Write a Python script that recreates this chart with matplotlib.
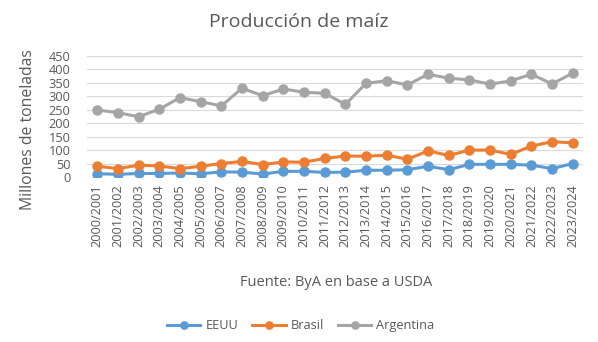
import matplotlib
matplotlib.use('Agg')
import matplotlib.pyplot as plt

plt.rcParams['font.family'] = ['Open Sans', 'DejaVu Sans']

campanas = ['2000/2001', '2001/2002', '2002/2003', '2003/2004', '2004/2005', '2005/2006',
            '2006/2007', '2007/2008', '2008/2009', '2009/2010', '2010/2011', '2011/2012',
            '2012/2013', '2013/2014', '2014/2015', '2015/2016', '2016/2017', '2017/2018',
            '2018/2019', '2019/2020', '2020/2021', '2021/2022', '2022/2023', '2023/2024']
eeuu = [12, 10, 13, 13, 15, 12, 19, 18, 11, 21, 21, 17,
        18, 25, 25, 27, 40, 27, 47, 47, 47, 44, 31, 50]
brasil = [40, 31, 44, 41, 31, 40, 50, 58, 46, 56, 55, 69,
          78, 77, 81, 66, 97, 80, 100, 100, 84, 115, 131, 127]
argentina = [249, 239, 224, 252, 295, 280, 264, 330, 302, 327, 315, 311,
             270, 348, 358, 342, 382, 367, 361, 345, 357, 382, 346, 386]

gris = '#595959'
fig = plt.figure(figsize=(5.98, 3.42), dpi=100)
ax = fig.add_axes([0.1455, 0.4825, 0.8295, 0.354])

x = range(len(campanas))
ax.plot(x, eeuu, color='#5B9BD5', lw=2.2, marker='o', ms=6.5, label='EEUU')
ax.plot(x, brasil, color='#ED7D31', lw=2.2, marker='o', ms=6.5, label='Brasil')
ax.plot(x, argentina, color='#A5A5A5', lw=2.2, marker='o', ms=6.5, label='Argentina')

ax.set_xlim(-0.5, len(campanas) - 0.5)
ax.set_ylim(0, 450)
ax.set_yticks(range(0, 451, 50))
ax.set_xticks(list(x))
ax.set_xticklabels(campanas, rotation=90)
ax.tick_params(axis='both', length=0, colors=gris, labelsize=9.2)
ax.tick_params(axis='x', pad=5)
ax.tick_params(axis='y', pad=12)
ax.grid(axis='y', color='#d9d9d9', lw=0.8)
ax.set_axisbelow(True)
for s in ax.spines.values():
    s.set_visible(False)

fig.text(28 / 598, 1 - 130 / 342, 'Millones de toneladas', rotation=90, ha='center', va='center',
         color=gris, fontsize=11.3)
fig.text(0.5, 0.935, 'Producción de maíz', ha='center', va='center', fontsize=14, color=gris)
fig.text(336 / 598, 1 - 282 / 342, 'Fuente: ByA en base a USDA', ha='center', va='center',
         fontsize=10.5, color=gris)

fig.legend(loc='center', bbox_to_anchor=(0.503, 0.047), ncol=3, frameon=False,
           fontsize=9.2, labelcolor=gris, handlelength=2.6, handletextpad=0.4,
           columnspacing=1.1, markerscale=0.8)

fig.savefig('out.png', dpi=100)
